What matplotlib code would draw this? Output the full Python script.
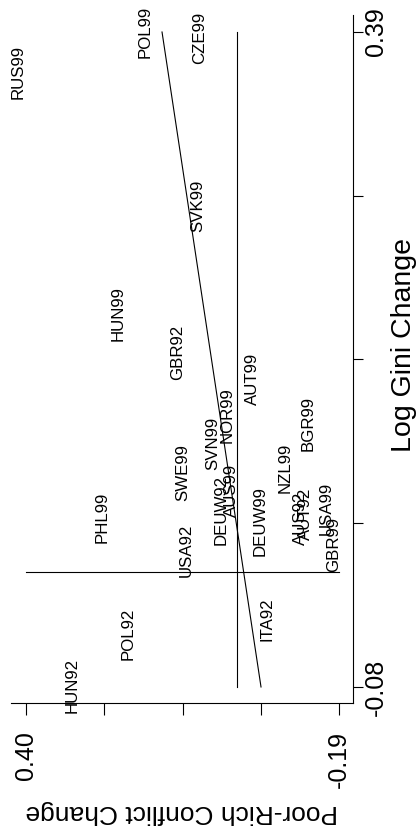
import matplotlib
matplotlib.use("Agg")
import matplotlib.pyplot as plt

plt.rcParams['font.family'] = ['Liberation Sans', 'DejaVu Sans']

# country-year labels, positioned at (conflict change, log gini change)
labels = ['RUS99', 'POL99', 'CZE99', 'SVK99', 'HUN99', 'GBR92', 'AUT99', 'NOR99',
          'SVN99', 'SWE99', 'PHL99', 'DEUW92', 'AUS99', 'DEUW99', 'NZL99', 'BGR99',
          'AUS92', 'AUT92', 'USA99', 'GBR99', 'USA92', 'POL92', 'HUN92', 'ITA92']
conflict = [0.415, 0.176, 0.072, 0.076, 0.227, 0.115, -0.026, 0.021,
            0.048, 0.104, 0.257, 0.032, 0.012, -0.041, -0.088, -0.132,
            -0.118, -0.126, -0.166, -0.179, 0.097, 0.208, 0.313, -0.054]
gini = [0.361, 0.390, 0.386, 0.265, 0.188, 0.160, 0.141, 0.115,
        0.095, 0.074, 0.042, 0.047, 0.061, 0.039, 0.077, 0.109,
        0.041, 0.044, 0.048, 0.022, 0.018, -0.042, -0.079, -0.031]

# fitted line and mean lines
fit_gini = [-0.08, 0.39]
fit_conflict = [-0.043, 0.1436]
mean_conflict = 0.0023
mean_gini = 0.0025
gini_range = [-0.08, 0.39]
conflict_range = [0.40, -0.19]

conflict_ticks = [0.40, 0.2525, 0.105, -0.0425, -0.19]
conflict_ticklabels = ['0.40', '', '', '', '-0.19']
gini_ticks = [0.39, 0.2725, 0.155, 0.0375, -0.08]
gini_ticklabels = ['0.39', '', '', '', '-0.08']

fig = plt.figure(figsize=(4.17, 8.33), dpi=100)
ax = fig.add_axes([11 / 417, 1 - 703 / 833, 342 / 417, 688 / 833])

# the plot is turned on its side: conflict runs right-to-left, gini upward
for lab, c, g in zip(labels, conflict, gini):
    ax.text(c, g, lab, rotation=90, ha='center', va='center', fontsize=12.2)

ax.plot(fit_conflict, fit_gini, color='black', lw=0.8)
ax.plot([mean_conflict, mean_conflict], gini_range, color='black', lw=0.8)
ax.plot(conflict_range, [mean_gini, mean_gini], color='black', lw=0.8)

ax.set_xlim(0.4283, -0.2164)
ax.set_ylim(-0.0915, 0.4022)

for s in ['top', 'left']:
    ax.spines[s].set_visible(False)
ax.spines['bottom'].set_linewidth(0.8)
ax.spines['right'].set_linewidth(0.8)

ax.set_xticks(conflict_ticks)
ax.set_xticklabels(conflict_ticklabels, rotation=90, fontsize=18)
ax.tick_params(axis='x', length=8.5, width=0.8, pad=12)
ax.yaxis.tick_right()
ax.set_yticks(gini_ticks)
ax.set_yticklabels(gini_ticklabels, rotation=90, fontsize=18, va='center')
ax.tick_params(axis='y', length=7, width=0.8, pad=1)

ax.set_xlabel('Poor-Rich Conflict Change', rotation=180, fontsize=19, labelpad=8)
ax.text(1.149, 0.52, 'Log Gini Change', rotation=90, fontsize=20.5,
        ha='center', va='center', transform=ax.transAxes)

fig.savefig('out.png', dpi=100)
